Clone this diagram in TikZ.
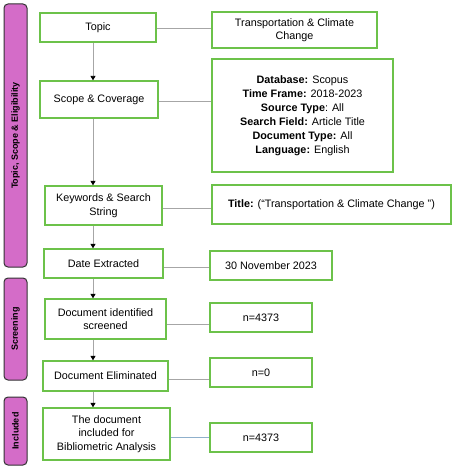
\documentclass[tikz,border=0pt]{standalone}
\usepackage{fontspec}
\setmainfont{Liberation Sans}
\usetikzlibrary{arrows.meta}
\definecolor{boxgreen}{HTML}{6CC24A}
\definecolor{barpink}{HTML}{D46CC8}
\definecolor{conngray}{HTML}{A6A6A6}
\definecolor{connblue}{HTML}{8FB0CC}
\tikzset{
  x=1pt, y=1pt,
  box/.style={draw=boxgreen, line width=1.3pt, fill=white, align=center, inner sep=2pt,
    font=\fontsize{10.8}{13.5}\selectfont},
  bar/.style={draw=black!80, line width=1pt, fill=barpink, rounded corners=4pt, rotate=90,
    font=\fontsize{9}{11}\selectfont\bfseries},
  conn/.style={draw=conngray, line width=0.9pt},
  arr/.style={draw=conngray, line width=0.9pt, -{Triangle[length=4.5pt,width=5pt,color=black]}},
}
\begin{document}
\begin{tikzpicture}
\useasboundingbox (0,0) rectangle (456,-468);
% side bars
\node[bar, minimum width=263pt, minimum height=23pt] (b1) at (15.5,-135.5) {Topic, Scope \& Eligibility};
\node[bar, minimum width=102pt, minimum height=23pt] (b2) at (15.5,-329) {Screening};
\node[bar, minimum width=68pt, minimum height=23pt] (b3) at (15.5,-431) {Included};
% left boxes
\node[box, minimum width=116pt, minimum height=29pt] (topic) at (98,-27.5) {Topic};
\node[box, minimum width=118pt, minimum height=37pt] (scope) at (99,-99.5) {Scope \& Coverage};
\node[box, minimum width=117pt, minimum height=39pt] (kw) at (103.5,-205.5) {Keywords \& Search\\String};
\node[box, minimum width=119pt, minimum height=29pt] (date) at (103.5,-263.5) {Date Extracted};
\node[box, minimum width=121pt, minimum height=40pt] (ident) at (105.5,-319) {Document identified\\screened};
\node[box, minimum width=125pt, minimum height=30pt] (elim) at (105.5,-376) {Document Eliminated};
\node[box, minimum width=127pt, minimum height=52pt] (incl) at (106.5,-434) {The document\\included for\\Bibliometric Analysis};
% right boxes
\node[box, minimum width=165pt, minimum height=36pt] (r1) at (294.5,-30) {Transportation \& Climate\\Change};
\node[box, minimum width=181pt, minimum height=113pt, font=\fontsize{10.8}{14}\selectfont] (r2) at (302.5,-115.5)
  {\textbf{Database:} Scopus\\\textbf{Time Frame:} 2018-2023\\\textbf{Source Type}: All\\\textbf{Search Field:} Article Title\\\textbf{Document Type:} All\\\textbf{Language:} English};
\node[box, minimum width=239pt, minimum height=39pt] (r3) at (331.5,-204.5) {\textbf{Title:} (``Transportation \& Climate Change '')};
\node[box, minimum width=122pt, minimum height=29pt] (r4) at (271,-265.5) {30 November 2023};
\node[box, minimum width=102pt, minimum height=29pt] (r5) at (261,-317.5) {n=4373};
\node[box, minimum width=102pt, minimum height=29pt] (r6) at (261,-372.5) {n=0};
\node[box, minimum width=102pt, minimum height=29pt] (r7) at (261,-437.5) {n=4373};
% vertical arrows
\coordinate (ax) at (93,0);
\draw[arr] (topic.south -| ax) -- (scope.north -| ax);
\draw[arr] (scope.south -| ax) -- (kw.north -| ax);
\draw[arr] (kw.south -| ax) -- (date.north -| ax);
\draw[arr] (date.south -| ax) -- (ident.north -| ax);
\draw[arr] (ident.south -| ax) -- (elim.north -| ax);
\draw[arr] (elim.south -| ax) -- (incl.north -| ax);
% horizontal connectors
\draw[conn] ([yshift=-0.5pt]topic.east) -- ([yshift=-0.5pt]topic.east -| r1.west);
\draw[conn] ([yshift=-2.2pt]scope.east) -- ([yshift=-2.2pt]scope.east -| r2.west);
\draw[conn] ([yshift=-2.5pt]kw.east) -- ([yshift=-2.5pt]kw.east -| r3.west);
\draw[conn] ([yshift=-3.5pt]date.east) -- ([yshift=-3.5pt]date.east -| r4.west);
\draw[conn] ([yshift=-5pt]ident.east) -- ([yshift=-5pt]ident.east -| r5.west);
\draw[conn] ([yshift=-3pt]elim.east) -- ([yshift=-3pt]elim.east -| r6.west);
\draw[conn, draw=connblue] ([yshift=-3pt]incl.east) -- ([yshift=-3pt]incl.east -| r7.west);
\end{tikzpicture}
\end{document}
